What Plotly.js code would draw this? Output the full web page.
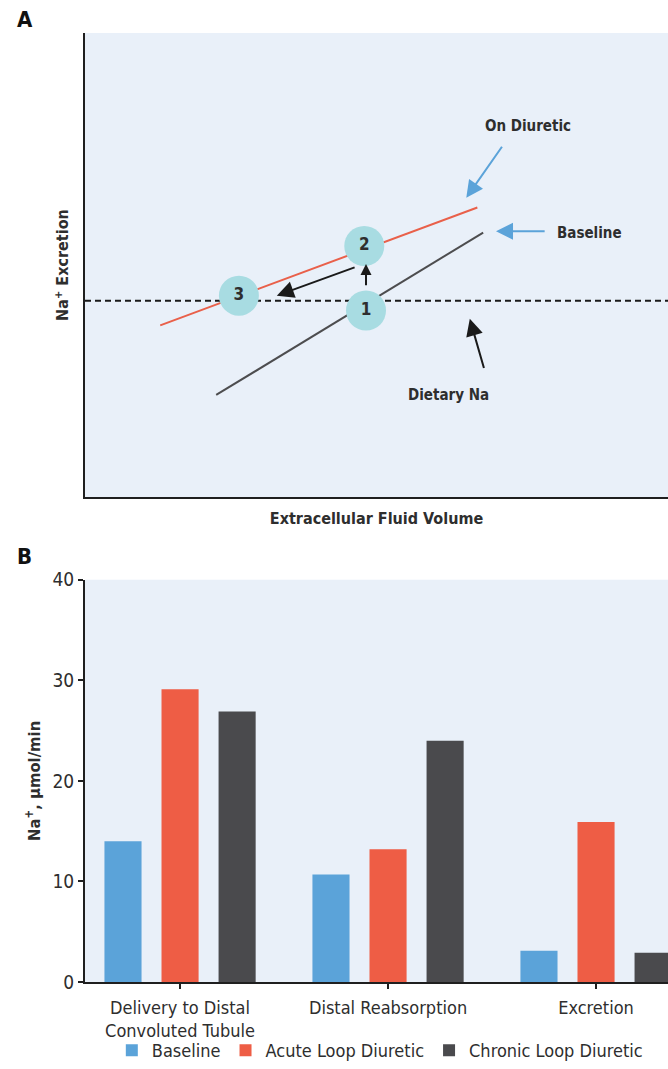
<!DOCTYPE html>
<html>
<head>
<meta charset="utf-8">
<script src="https://cdn.plot.ly/plotly-3.0.1.min.js"></script>
<style>html,body{margin:0;padding:0;background:#fff;}#chart{width:668px;height:1069px;}</style>
</head>
<body>
<div id="chart"></div>
<script>
// ---------- Panel A (schematic, arbitrary units 0-100) ----------
const dietaryNaLevel = 42.3;
const dietaryX = [0, 100];
const baselineCurveX = [22.5, 68.3];
const baselineCurveY = [22, 57];
const diureticCurveX = [12.9, 67.3];
const diureticCurveY = [37, 62.4];
const stateX = [48.2, 47.9, 26.4];
const stateY = [40.2, 54.1, 43.4];
const stateLabels = ['1', '2', '3'];
// arrows: tail -> tip
const blackArrowTailX = [48.2, 46.5, 68.5];
const blackArrowTailY = [45.3, 49.6, 27.5];
const blackArrowTipX  = [48.2, 32.9, 66.0];
const blackArrowTipY  = [50.2, 43.4, 38.4];
const blueArrowTailX = [71.7, 79.1];
const blueArrowTailY = [75.8, 57.3];
const blueArrowTipX  = [65.4, 70.5];
const blueArrowTipY  = [64.5, 57.3];
const panelALabels = ['On Diuretic', 'Baseline', 'Dietary Na'];
const panelALabelX = [76.0, 86.5, 62.3];
const panelALabelY = [79.9, 56.9, 22.1];

// ---------- Panel B ----------
const categories = ['Delivery to Distal<br>Convoluted Tubule', 'Distal Reabsorption', 'Excretion'];
const seriesNames = ['Baseline', 'Acute Loop Diuretic', 'Chronic Loop Diuretic'];
const baselineVals = [14.0, 10.7, 3.1];
const acuteVals = [29.1, 13.2, 15.9];
const chronicVals = [26.9, 24.0, 2.9];
const yTicks = [0, 10, 20, 30, 40];

const FONT = 'DejaVu Sans Condensed, DejaVu Sans, sans-serif';
const TXT = '#2e2e2e';
const BLUE = '#5BA3D9', RED = '#EE5D45', DARK = '#4A4A4D';

const traces = [
  {x: dietaryX, y: [dietaryNaLevel, dietaryNaLevel], xaxis: 'x', yaxis: 'y', mode: 'lines',
   line: {color: '#1a1a1a', width: 2, dash: '6px,4px'}, showlegend: false, hoverinfo: 'skip'},
  {x: baselineCurveX, y: baselineCurveY, xaxis: 'x', yaxis: 'y', mode: 'lines',
   line: {color: '#4d4d4f', width: 2}, showlegend: false, hoverinfo: 'skip'},
  {x: diureticCurveX, y: diureticCurveY, xaxis: 'x', yaxis: 'y', mode: 'lines',
   line: {color: '#E9604A', width: 2}, showlegend: false, hoverinfo: 'skip'},
  {x: stateX, y: stateY, text: stateLabels, xaxis: 'x', yaxis: 'y', mode: 'markers+text',
   textposition: 'middle center', textfont: {family: FONT, size: 17, color: TXT, weight: 'bold'},
   marker: {size: 40, color: '#A8DCE2', line: {width: 0}}, showlegend: false, hoverinfo: 'skip'},
  {type: 'bar', name: seriesNames[0], x: categories, y: baselineVals, xaxis: 'x2', yaxis: 'y2', marker: {color: BLUE}},
  {type: 'bar', name: seriesNames[1], x: categories, y: acuteVals, xaxis: 'x2', yaxis: 'y2', marker: {color: RED}},
  {type: 'bar', name: seriesNames[2], x: categories, y: chronicVals, xaxis: 'x2', yaxis: 'y2', marker: {color: DARK}}
];

const annotations = [];
for (let i = 0; i < blackArrowTipX.length; i++) {
  annotations.push({xref: 'x', yref: 'y', axref: 'x', ayref: 'y', x: blackArrowTipX[i], y: blackArrowTipY[i],
    ax: blackArrowTailX[i], ay: blackArrowTailY[i], text: '', showarrow: true, arrowhead: 2,
    arrowsize: i === 0 ? 1.1 : 1.7, arrowwidth: 2, arrowcolor: '#1a1a1a', standoff: 0});
}
for (let i = 0; i < blueArrowTipX.length; i++) {
  annotations.push({xref: 'x', yref: 'y', axref: 'x', ayref: 'y', x: blueArrowTipX[i], y: blueArrowTipY[i],
    ax: blueArrowTailX[i], ay: blueArrowTailY[i], text: '', showarrow: true, arrowhead: 2,
    arrowsize: 1.7, arrowwidth: 2, arrowcolor: BLUE, standoff: 0});
}
for (let i = 0; i < panelALabels.length; i++) {
  annotations.push({xref: 'x', yref: 'y', x: panelALabelX[i], y: panelALabelY[i], text: panelALabels[i],
    showarrow: false, xanchor: 'center', yanchor: 'middle',
    font: {family: FONT, size: 15, color: TXT, weight: 'bold'}});
}
annotations.push({xref: 'paper', yref: 'paper', x: -0.103, y: 1.014, text: 'A', showarrow: false,
  xanchor: 'center', yanchor: 'middle', font: {family: FONT, size: 22, color: '#111', weight: 'bold'}});
annotations.push({xref: 'paper', yref: 'paper', x: -0.103, y: 0.448, text: 'B', showarrow: false,
  xanchor: 'center', yanchor: 'middle', font: {family: FONT, size: 22, color: '#111', weight: 'bold'}});

const axisLine = {showline: true, linecolor: '#1f1f1f', linewidth: 2, showgrid: false, zeroline: false};

const layout = {
  width: 668, height: 1069,
  margin: {l: 85, r: 0, t: 33, b: 83},
  paper_bgcolor: '#ffffff', plot_bgcolor: '#E9F0F9',
  font: {family: FONT, color: TXT},
  barmode: 'group', bargap: 0.177, bargroupgap: 0.35,
  xaxis: Object.assign({}, axisLine, {domain: [0, 1], range: [0, 100], showticklabels: false, ticks: '',
    automargin: true, anchor: 'y',
    title: {text: 'Extracellular Fluid Volume', standoff: 15, font: {family: FONT, size: 16, color: TXT, weight: 'bold'}}}),
  yaxis: Object.assign({}, axisLine, {domain: [0.511, 1], range: [0, 100], showticklabels: false, ticks: '',
    automargin: true, anchor: 'x',
    title: {text: 'Na<sup>+</sup> Excretion', standoff: 10, font: {family: FONT, size: 16, color: TXT, weight: 'bold'}}}),
  xaxis2: Object.assign({}, axisLine, {domain: [0, 1], type: 'category', range: [-0.457, 2.346], anchor: 'y2',
    ticks: 'outside', ticklen: 5, tickwidth: 2, tickcolor: '#1f1f1f', ticklabelstandoff: 3,
    tickfont: {family: FONT, size: 18, color: TXT}}),
  yaxis2: Object.assign({}, axisLine, {domain: [0, 0.4239], range: [0, 40], anchor: 'x2',
    tickvals: yTicks, ticks: 'outside', ticklen: 5, tickwidth: 2, tickcolor: '#1f1f1f',
    tickfont: {family: FONT, size: 19, color: TXT}, automargin: true,
    title: {text: 'Na<sup>+</sup>, µmol/min', standoff: 8, font: {family: FONT, size: 16.5, color: TXT, weight: 'bold'}}}),
  showlegend: true,
  legend: {orientation: 'h', x: 0.046, xanchor: 'left', y: -0.0724, yanchor: 'middle',
    font: {family: FONT, size: 18, color: TXT}, bgcolor: 'rgba(0,0,0,0)', traceorder: 'normal'},
  annotations: annotations,
  hovermode: false
};

Plotly.newPlot('chart', traces, layout, {displayModeBar: false, staticPlot: true});
</script>
</body>
</html>
